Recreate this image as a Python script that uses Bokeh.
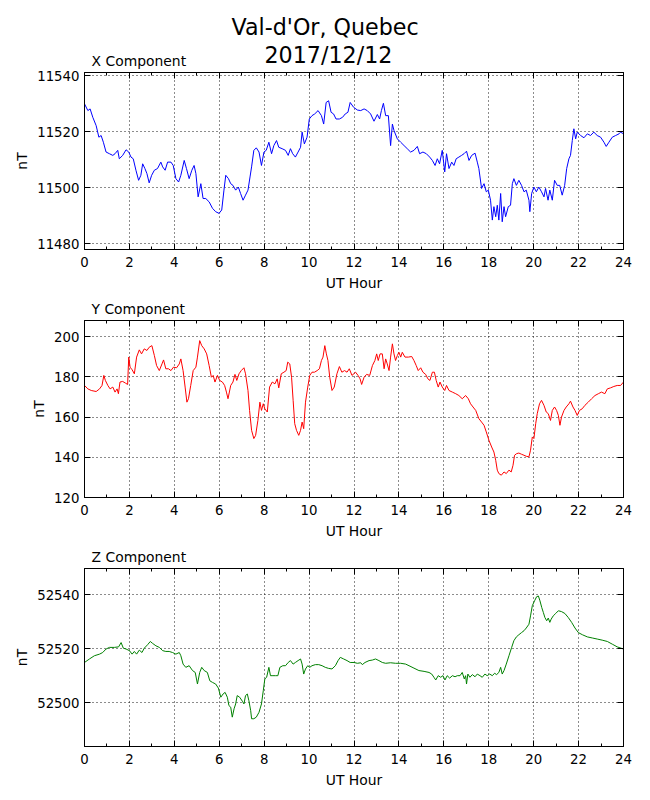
from bokeh.plotting import figure
from bokeh.models import FixedTicker, LinearAxis, Title, Range1d, Label
from bokeh.layouts import column
from bokeh.embed import file_html
from bokeh.resources import INLINE

# ---------------- data ----------------
X_HOUR = [0.0, 0.15, 0.25, 0.37, 0.52, 0.64, 0.74, 0.84, 0.96, 1.11, 1.26, 1.36, 1.48, 1.55, 1.70, 1.85, 1.97,
          2.07, 2.17, 2.29, 2.41, 2.51, 2.59, 2.69, 2.78, 2.88, 2.99, 3.11, 3.25, 3.40, 3.48, 3.59, 3.70, 3.85,
          3.95, 4.07, 4.19, 4.29, 4.44, 4.54, 4.66, 4.78, 4.88, 4.96, 5.06, 5.18, 5.28, 5.40, 5.55, 5.70, 5.84,
          5.99, 6.11, 6.21, 6.29, 6.41, 6.51, 6.61, 6.73, 6.85, 6.95, 7.06, 7.17, 7.28, 7.37, 7.44, 7.54, 7.65,
          7.77, 7.88, 7.99, 8.09, 8.21, 8.33, 8.43, 8.55, 8.65, 8.80, 8.95, 9.07, 9.17, 9.27, 9.39, 9.51, 9.62,
          9.69, 9.79, 9.91, 10.01, 10.13, 10.25, 10.40, 10.55, 10.65, 10.76, 10.87, 10.98, 11.09, 11.20, 11.35,
          11.49, 11.61, 11.73, 11.83, 11.98, 12.15, 12.30, 12.45, 12.59, 12.74, 12.89, 13.04, 13.14, 13.22, 13.31,
          13.41, 13.53, 13.63, 13.71, 13.78, 13.93, 14.08, 14.23, 14.37, 14.52, 14.67, 14.82, 14.92, 15.07, 15.22,
          15.37, 15.49, 15.61, 15.71, 15.81, 15.93, 16.04, 16.12, 16.23, 16.35, 16.45, 16.55, 16.67, 16.79, 16.90,
          17.01, 17.12, 17.24, 17.39, 17.49, 17.56, 17.68, 17.79, 17.89, 17.98, 18.08, 18.16, 18.23, 18.31, 18.38,
          18.45, 18.53, 18.60, 18.68, 18.75, 18.87, 18.97, 19.05, 19.12, 19.23, 19.34, 19.46, 19.57, 19.67, 19.79,
          19.83, 19.91, 20.01, 20.12, 20.23, 20.35, 20.46, 20.53, 20.64, 20.72, 20.83, 20.93, 21.05, 21.16, 21.27,
          21.38, 21.47, 21.57, 21.64, 21.72, 21.79, 21.87, 21.94, 22.09, 22.24, 22.39, 22.53, 22.68, 22.83, 22.98,
          23.13, 23.23, 23.35, 23.50, 23.65, 23.80, 23.87, 24.0]
X_NT = [11530.0, 11527.6, 11528.2, 11525.2, 11522.2, 11518.1, 11518.7, 11516.3, 11512.8, 11512.2, 11511.6,
        11512.2, 11513.4, 11510.4, 11511.6, 11513.6, 11512.8, 11511.0, 11510.4, 11506.3, 11502.7, 11504.5,
        11508.6, 11506.9, 11505.1, 11501.8, 11504.5, 11506.3, 11506.9, 11509.2, 11507.5, 11506.3, 11509.2,
        11509.2, 11508.0, 11503.3, 11502.1, 11504.5, 11509.8, 11506.9, 11503.3, 11506.3, 11508.0, 11505.1,
        11496.8, 11501.5, 11496.2, 11496.2, 11495.0, 11492.7, 11491.5, 11490.9, 11492.1, 11499.2, 11504.5,
        11503.3, 11501.5, 11500.9, 11499.2, 11500.3, 11498.0, 11495.6, 11497.4, 11499.2, 11503.9, 11507.5,
        11513.4, 11514.3, 11512.8, 11508.0, 11512.8, 11513.4, 11516.3, 11512.2, 11515.1, 11516.9, 11514.5,
        11514.0, 11513.4, 11511.6, 11514.0, 11512.2, 11511.0, 11512.8, 11514.5, 11519.9, 11515.7, 11518.1,
        11524.6, 11525.8, 11526.4, 11527.6, 11525.8, 11522.8, 11530.5, 11531.1, 11527.0, 11526.4, 11524.6,
        11524.6, 11525.2, 11526.4, 11527.0, 11530.5, 11528.8, 11527.8, 11527.6, 11528.2, 11527.6, 11526.4,
        11523.8, 11526.2, 11524.6, 11527.6, 11530.2, 11525.8, 11525.8, 11515.1, 11522.8, 11520.5, 11517.5,
        11516.3, 11515.1, 11514.0, 11512.8, 11513.4, 11514.8, 11512.2, 11512.8, 11512.2, 11511.0, 11509.8,
        11508.0, 11510.4, 11508.6, 11513.4, 11505.7, 11512.2, 11506.9, 11509.2, 11508.0, 11510.4, 11511.0,
        11511.6, 11512.2, 11513.1, 11509.8, 11511.6, 11512.4, 11509.2, 11506.9, 11499.8, 11501.5, 11498.6,
        11499.2, 11495.6, 11488.5, 11493.3, 11489.7, 11493.8, 11488.5, 11498.0, 11487.9, 11493.3, 11489.7,
        11493.3, 11493.8, 11501.5, 11503.3, 11500.9, 11502.7, 11500.9, 11498.6, 11499.2, 11495.6, 11491.5,
        11498.0, 11500.3, 11498.6, 11500.3, 11498.6, 11496.8, 11499.8, 11495.6, 11499.2, 11495.6, 11502.7,
        11500.9, 11500.9, 11497.4, 11500.9, 11506.9, 11510.4, 11511.6, 11516.9, 11521.1, 11517.5, 11519.9,
        11518.7, 11517.9, 11519.3, 11518.7, 11519.9, 11518.7, 11518.1, 11516.3, 11514.8, 11516.3, 11518.1,
        11518.7, 11519.3, 11519.9, 11519.3]

Y_HOUR = [0.0, 0.15, 0.30, 0.52, 0.67, 0.78, 0.86, 0.93, 1.04, 1.14, 1.26, 1.36, 1.45, 1.51, 1.58, 1.70, 1.82,
          1.92, 1.97, 2.03, 2.12, 2.22, 2.32, 2.44, 2.54, 2.66, 2.78, 2.88, 3.00, 3.11, 3.21, 3.33, 3.45, 3.52,
          3.62, 3.74, 3.85, 3.96, 4.10, 4.22, 4.29, 4.39, 4.48, 4.56, 4.63, 4.73, 4.84, 4.96, 5.03, 5.13, 5.22,
          5.33, 5.44, 5.55, 5.65, 5.73, 5.81, 5.92, 6.02, 6.14, 6.24, 6.32, 6.39, 6.51, 6.61, 6.70, 6.78, 6.88,
          6.98, 7.10, 7.17, 7.28, 7.35, 7.44, 7.54, 7.62, 7.72, 7.81, 7.88, 7.96, 8.03, 8.14, 8.24, 8.36, 8.48,
          8.58, 8.65, 8.76, 8.88, 8.98, 9.05, 9.14, 9.22, 9.29, 9.36, 9.44, 9.54, 9.62, 9.69, 9.76, 9.84, 9.94,
          10.03, 10.13, 10.24, 10.36, 10.46, 10.55, 10.62, 10.70, 10.77, 10.84, 10.92, 11.02, 11.12, 11.24, 11.35,
          11.46, 11.58, 11.69, 11.79, 11.91, 12.07, 12.18, 12.27, 12.34, 12.45, 12.56, 12.70, 12.82, 12.93, 13.01,
          13.08, 13.16, 13.26, 13.34, 13.41, 13.48, 13.56, 13.63, 13.71, 13.78, 13.85, 13.93, 14.00, 14.08, 14.15,
          14.27, 14.42, 14.57, 14.67, 14.77, 14.86, 14.97, 15.07, 15.19, 15.29, 15.38, 15.49, 15.58, 15.66, 15.75,
          15.83, 15.93, 16.04, 16.12, 16.23, 16.38, 16.53, 16.67, 16.82, 16.97, 17.09, 17.19, 17.30, 17.42, 17.56,
          17.68, 17.79, 17.89, 18.01, 18.13, 18.23, 18.31, 18.38, 18.45, 18.56, 18.68, 18.78, 18.90, 19.00, 19.08,
          19.15, 19.24, 19.34, 19.46, 19.57, 19.67, 19.79, 19.86, 19.94, 20.01, 20.09, 20.16, 20.26, 20.35, 20.46,
          20.56, 20.65, 20.75, 20.83, 20.93, 21.02, 21.10, 21.17, 21.24, 21.35, 21.45, 21.57, 21.64, 21.75, 21.84,
          21.94, 22.04, 22.16, 22.28, 22.43, 22.58, 22.73, 22.88, 23.02, 23.17, 23.28, 23.42, 23.57, 23.72, 23.87,
          24.0]
Y_NT = [175.7, 174.0, 173.2, 172.7, 174.0, 175.7, 180.7, 178.2, 175.7, 174.0, 174.9, 172.4, 174.0, 171.6, 177.4,
        177.7, 176.9, 176.2, 189.8, 184.8, 183.5, 181.5, 189.8, 193.4, 191.4, 193.9, 193.1, 194.7, 195.5, 190.6,
        185.6, 183.1, 186.4, 188.4, 184.0, 184.0, 183.1, 184.8, 184.5, 186.4, 188.9, 183.1, 174.9, 167.4, 169.1,
        175.7, 183.1, 184.8, 189.8, 198.0, 195.5, 193.9, 191.4, 185.6, 179.8, 180.7, 177.4, 180.7, 178.2, 177.4,
        175.7, 172.4, 169.1, 175.7, 177.4, 181.2, 178.2, 181.5, 183.1, 184.5, 181.5, 173.2, 163.3, 153.4, 149.3,
        150.9, 158.3, 167.4, 163.3, 166.6, 164.1, 162.5, 174.9, 177.4, 176.5, 179.0, 174.5, 181.5, 182.3, 183.1,
        187.3, 186.4, 179.8, 168.3, 156.7, 153.4, 150.9, 153.4, 157.5, 154.2, 167.4, 174.9, 180.7, 182.3, 182.3,
        183.1, 184.0, 188.1, 189.8, 195.5, 191.4, 188.1, 179.8, 173.2, 174.9, 181.5, 185.1, 182.3, 183.1, 182.3,
        184.0, 180.7, 182.3, 180.7, 179.0, 176.2, 179.8, 181.2, 180.7, 185.6, 188.1, 191.4, 188.1, 191.4, 191.4,
        184.0, 188.9, 186.4, 183.1, 189.8, 196.4, 191.4, 188.1, 190.6, 192.2, 189.8, 192.2, 189.8, 189.8, 190.1,
        188.1, 185.6, 183.1, 184.5, 182.3, 181.2, 179.0, 178.2, 182.3, 182.3, 178.2, 174.9, 177.4, 174.9, 173.2,
        175.7, 173.2, 172.4, 171.6, 170.7, 169.1, 170.7, 169.1, 166.6, 165.0, 163.3, 159.2, 157.5, 155.9, 152.6,
        148.4, 145.1, 142.6, 138.5, 133.6, 131.9, 131.1, 132.7, 131.9, 133.6, 132.7, 136.0, 141.0, 141.8, 142.1,
        141.5, 141.0, 140.5, 140.2, 143.5, 150.1, 149.3, 156.7, 161.7, 166.6, 168.3, 165.8, 162.5, 161.7, 158.3,
        163.3, 165.0, 163.3, 160.8, 155.9, 160.0, 163.3, 165.0, 166.6, 167.9, 165.0, 163.3, 160.8, 163.3, 164.1,
        165.8, 167.4, 169.1, 170.7, 171.6, 172.4, 171.6, 174.0, 174.5, 175.2, 175.7, 175.7, 177.4]

Z_HOUR = [0.0, 0.22, 0.44, 0.67, 0.81, 0.96, 1.11, 1.33, 1.52, 1.63, 1.73, 1.85, 2.00, 2.12, 2.22, 2.32, 2.44,
          2.56, 2.66, 2.81, 2.93, 3.03, 3.18, 3.33, 3.48, 3.62, 3.77, 3.92, 4.07, 4.22, 4.29, 4.39, 4.51, 4.66,
          4.81, 4.93, 5.03, 5.13, 5.22, 5.33, 5.47, 5.58, 5.70, 5.84, 5.96, 6.07, 6.17, 6.26, 6.36, 6.43, 6.51,
          6.58, 6.66, 6.73, 6.80, 6.91, 7.03, 7.10, 7.17, 7.25, 7.32, 7.40, 7.44, 7.54, 7.65, 7.77, 7.88, 7.96,
          8.03, 8.11, 8.21, 8.28, 8.39, 8.51, 8.61, 8.70, 8.83, 8.95, 9.07, 9.17, 9.29, 9.39, 9.51, 9.62, 9.69,
          9.76, 9.84, 9.94, 10.03, 10.13, 10.28, 10.43, 10.58, 10.72, 10.87, 11.02, 11.17, 11.29, 11.39, 11.54,
          11.69, 11.83, 12.00, 12.15, 12.30, 12.37, 12.49, 12.67, 12.82, 12.96, 13.11, 13.26, 13.41, 13.63, 13.85,
          14.08, 14.30, 14.45, 14.67, 14.89, 15.12, 15.34, 15.46, 15.56, 15.64, 15.75, 15.86, 15.96, 16.05, 16.15,
          16.26, 16.38, 16.50, 16.60, 16.72, 16.82, 16.91, 16.97, 17.01, 17.07, 17.16, 17.27, 17.39, 17.49, 17.61,
          17.71, 17.83, 17.93, 18.04, 18.16, 18.26, 18.35, 18.45, 18.53, 18.60, 18.68, 18.78, 18.90, 19.02, 19.12,
          19.23, 19.34, 19.46, 19.57, 19.67, 19.79, 19.86, 19.94, 20.04, 20.13, 20.21, 20.28, 20.36, 20.43, 20.50,
          20.58, 20.65, 20.72, 20.78, 20.87, 20.98, 21.10, 21.24, 21.39, 21.54, 21.69, 21.84, 21.99, 22.17, 22.39,
          22.61, 22.83, 23.05, 23.28, 23.50, 23.72, 24.0]
Z_NT = [52514.9, 52516.2, 52517.4, 52518.0, 52518.6, 52519.9, 52520.5, 52520.5, 52520.7, 52522.3, 52520.2,
        52519.9, 52519.3, 52518.0, 52519.0, 52518.0, 52519.5, 52518.6, 52520.2, 52521.5, 52522.7, 52522.0,
        52521.1, 52520.5, 52519.3, 52519.0, 52519.0, 52518.6, 52518.0, 52518.6, 52517.4, 52514.3, 52513.1,
        52513.7, 52511.9, 52511.2, 52506.9, 52511.2, 52513.1, 52511.9, 52511.2, 52508.1, 52507.5, 52506.9,
        52505.4, 52502.0, 52503.2, 52503.8, 52502.0, 52498.9, 52498.3, 52494.6, 52497.7, 52499.5, 52502.6,
        52502.0, 52500.5, 52499.5, 52502.6, 52503.2, 52500.7, 52497.0, 52494.0, 52494.0, 52494.6, 52496.4,
        52499.5, 52504.4, 52508.8, 52509.4, 52513.1, 52510.0, 52510.0, 52510.0, 52510.0, 52513.1, 52513.7,
        52513.7, 52514.9, 52515.6, 52514.3, 52514.9, 52515.6, 52516.2, 52514.3, 52510.6, 52512.5, 52513.7,
        52513.1, 52513.7, 52514.1, 52514.1, 52513.7, 52513.1, 52512.7, 52512.5, 52513.7, 52515.6, 52516.8,
        52516.2, 52515.6, 52514.9, 52514.9, 52514.6, 52514.8, 52514.1, 52514.9, 52515.6, 52515.8, 52516.2,
        52515.6, 52514.9, 52514.6, 52514.8, 52514.6, 52514.6, 52514.3, 52513.7, 52512.8, 52511.9, 52511.6,
        52511.2, 52510.6, 52509.4, 52508.4, 52510.0, 52509.4, 52510.0, 52508.4, 52510.0, 52509.1, 52510.0,
        52509.6, 52510.0, 52510.0, 52511.2, 52508.8, 52510.0, 52506.9, 52510.6, 52509.4, 52510.4, 52509.6,
        52510.6, 52510.0, 52509.4, 52510.6, 52510.0, 52510.6, 52510.0, 52510.9, 52510.4, 52511.2, 52513.1,
        52510.6, 52511.9, 52514.3, 52517.4, 52520.5, 52523.0, 52524.4, 52525.2, 52526.0, 52526.7, 52527.7,
        52529.1, 52532.2, 52536.0, 52537.8, 52539.3, 52539.6, 52537.8, 52535.3, 52533.5, 52531.6, 52530.4,
        52531.4, 52529.8, 52531.0, 52532.2, 52533.1, 52534.1, 52533.8, 52533.1, 52531.6, 52529.8, 52527.7,
        52526.0, 52525.2, 52524.4, 52524.0, 52523.6, 52523.2, 52522.7, 52521.7, 52520.7, 52519.9]

X_TICKS = [0, 2, 4, 6, 8, 10, 12, 14, 16, 18, 20, 22, 24]
X_MINOR = [1, 3, 5, 7, 9, 11, 13, 15, 17, 19, 21, 23]
XC_TICKS = [11480, 11500, 11520, 11540]
YC_TICKS = [120, 140, 160, 180, 200]
ZC_TICKS = [52500, 52520, 52540]

MAIN_TITLE = "Val-d'Or, Quebec"
DATE_TITLE = "2017/12/12"
COMP_TITLES = ["X Component", "Y Component", "Z Component"]

FONT = "DejaVu Sans"
HEAD_H = 70


def make_panel(hours, vals, color, yrange, yticks, comp, top_border, frame_h):
    p = figure(frame_width=539, frame_height=frame_h, x_range=Range1d(0, 24),
               y_range=Range1d(*yrange), output_backend="svg", toolbar_location=None,
               min_border_left=84, min_border_right=10, min_border_top=top_border,
               min_border_bottom=45, title=None)
    p.background_fill_color = "white"
    p.border_fill_color = "white"
    p.outline_line_color = "black"
    p.outline_line_width = 1

    xt = FixedTicker(ticks=X_TICKS, minor_ticks=X_MINOR)
    yt = FixedTicker(ticks=yticks, minor_ticks=[])

    xa = p.xaxis[0]
    xa.ticker = xt
    xa.axis_label = "UT Hour"
    ya = p.yaxis[0]
    ya.ticker = yt
    ya.axis_label = "nT"
    for ax in (xa, ya):
        ax.major_tick_in = 6
        ax.major_tick_out = 0
        ax.minor_tick_in = 3
        ax.minor_tick_out = 0
        ax.axis_line_color = "black"
        ax.major_tick_line_color = "black"
        ax.minor_tick_line_color = "black"
        ax.major_label_text_font = FONT
        ax.major_label_text_font_size = "13.3px"
        ax.major_label_text_color = "black"
        ax.axis_label_text_font = FONT
        ax.axis_label_text_font_size = "13.9px"
        ax.axis_label_text_font_style = "normal"
        ax.axis_label_text_color = "black"
    xa.major_label_standoff = 7
    xa.axis_label_standoff = 5
    ya.major_label_standoff = 5
    ya.axis_label_standoff = 4

    # tick marks on the top and right spines (no labels drawn)
    top = LinearAxis(ticker=xt, major_label_text_font_size="1px", major_label_text_color=None,
                     major_label_standoff=0, major_tick_in=6, major_tick_out=0,
                     minor_tick_in=3, minor_tick_out=0, axis_line_color="black")
    right = LinearAxis(ticker=yt, major_label_text_font_size="1px", major_label_text_color=None,
                       major_label_standoff=0, major_tick_in=6, major_tick_out=0,
                       minor_tick_in=3, minor_tick_out=0, axis_line_color="black")
    p.add_layout(top, "above")
    p.add_layout(right, "right")

    if comp is not None:
        p.add_layout(Title(text=comp, align="left", offset=7, standoff=8,
                           text_font=FONT, text_font_size="13.9px", text_font_style="normal",
                           text_color="black"), "above")

    for g in (p.xgrid[0], p.ygrid[0]):
        g.grid_line_color = "black"
        g.grid_line_width = 1
        g.grid_line_dash = "1 3"
        g.grid_line_alpha = 0.9

    p.line(hours, vals, line_color=color, line_width=1)
    return p


# header strip: page title and the first panel's title (they overlap vertically in the reference)
head = figure(frame_width=539, frame_height=HEAD_H, x_range=Range1d(0, 539), y_range=Range1d(0, HEAD_H),
              output_backend="svg", toolbar_location=None, min_border_left=84, min_border_right=10,
              min_border_top=0, min_border_bottom=0,
              x_axis_type=None, y_axis_type=None, title=None)
head.outline_line_color = None
head.background_fill_color = "white"
head.border_fill_color = "white"
head.xgrid.visible = False
head.ygrid.visible = False
for txt, sx, sy, size in ((MAIN_TITLE, 147, 43.7, "22.2px"),
                          (DATE_TITLE, 180, 16.0, "22.2px"),
                          (COMP_TITLES[0], 7, 9.1, "13.9px")):
    head.add_layout(Label(x=sx, y=sy, x_units="screen", y_units="screen", text=txt,
                          text_font=FONT, text_font_size=size, text_baseline="middle",
                          text_align="left", text_color="black"))

p1 = make_panel(X_HOUR, X_NT, "#0000ff", (11478.0, 11541.2), XC_TICKS, None, 2, 177)
p2 = make_panel(Y_HOUR, Y_NT, "#ff0000", (120.0, 208.0), YC_TICKS, COMP_TITLES[1], 25, 177)
p3 = make_panel(Z_HOUR, Z_NT, "#008000", (52483.7, 52549.8), ZC_TICKS, COMP_TITLES[2], 25, 178)

layout = column(head, p1, p2, p3, spacing=0)
open("out.html", "w").write(file_html(layout, INLINE))
